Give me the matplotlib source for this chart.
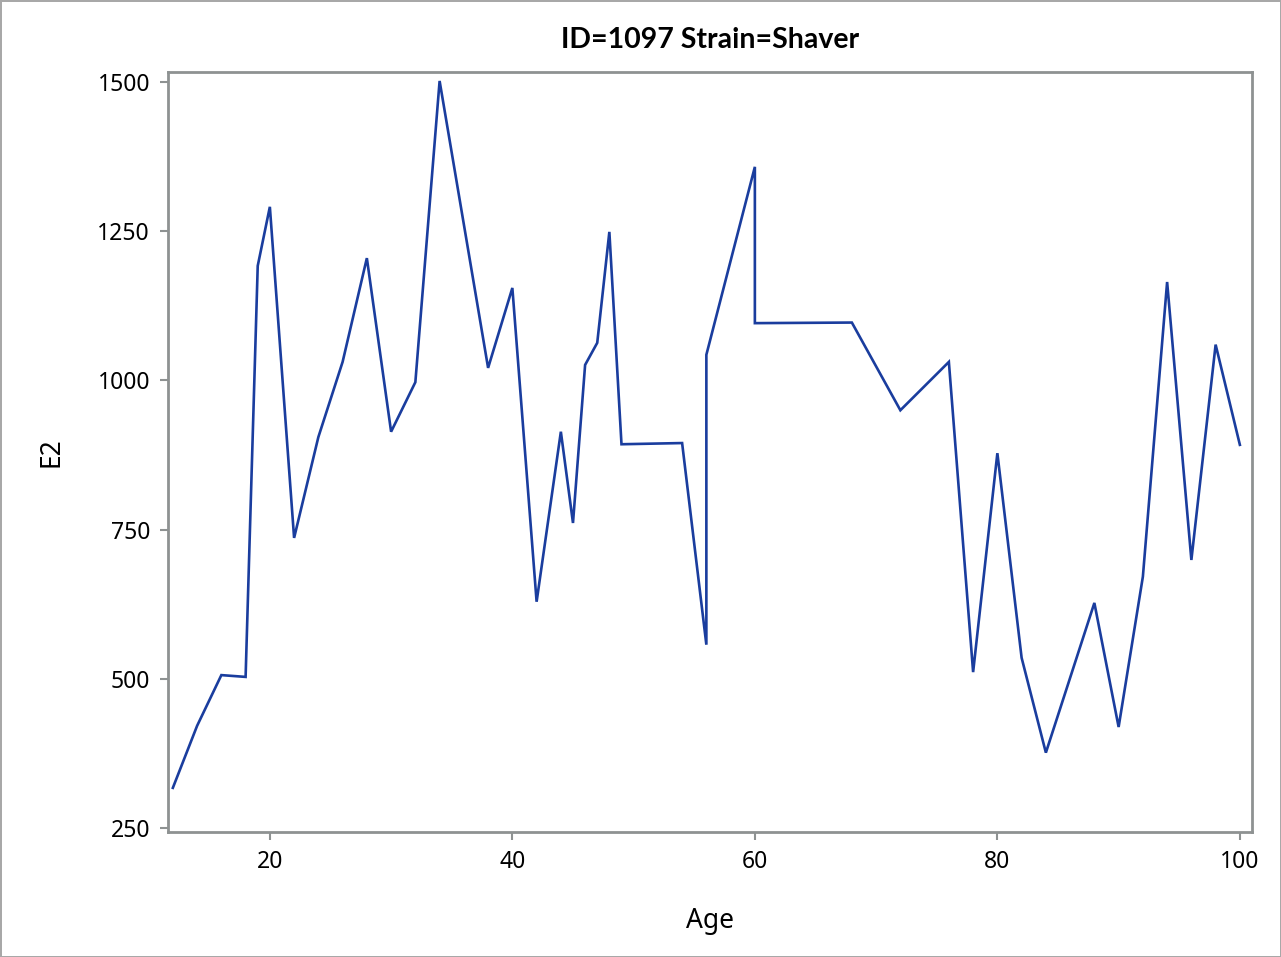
import numpy as np
import matplotlib
matplotlib.use("Agg")
import matplotlib.pyplot as plt

# values (age, E2), in plotting order
age = [12, 14, 16, 18, 19, 20, 22, 24, 26, 28, 30, 32, 34, 38, 40, 42, 44, 45,
       46, 47, 48, 49, 54, 56, 56, 60, 60, 68, 72, 76, 78, 80, 82, 84, 88, 90,
       92, 94, 96, 98, 100]
e2 = [317, 421, 506, 503, 1192, 1291, 736, 905, 1031, 1205, 914, 997, 1502,
      1021, 1155, 629, 914, 761, 1026, 1063, 1249, 893, 895, 557, 1043, 1358,
      1096, 1097, 950, 1031, 511, 878, 535, 376, 627, 419, 671, 1165, 699,
      1060, 892]

x_ticks = [20, 40, 60, 80, 100]
y_ticks = [250, 500, 750, 1000, 1250, 1500]

plt.rcParams['font.family'] = ['Noto Sans', 'DejaVu Sans']
frame = '#8e9292'

fig = plt.figure(figsize=(12.81, 9.57), dpi=100, edgecolor='#a8a8a8', linewidth=2)
ax = fig.add_axes([168/1281, 1 - 832/957, (1252-168)/1281, (832-72)/957])

ax.plot(age, e2, color='#1a3d9e', linewidth=1.9, solid_joinstyle='miter')

ax.set_xlim(11.6, 101)
ax.set_ylim(243, 1517)
ax.set_xticks(x_ticks)
ax.set_yticks(y_ticks)
ax.tick_params(direction='out', length=6, width=1.5, color=frame,
               labelsize=16.5, pad=7)
for s in ax.spines.values():
    s.set_color(frame)
    s.set_linewidth(2)

ax.set_xlabel('Age', fontsize=19, labelpad=24)
ax.set_ylabel('E2', fontsize=19, labelpad=23)
ax.set_title('ID=1097 Strain=Shaver', fontsize=20.5, fontweight='bold', pad=17,
             family=['Lato', 'DejaVu Sans'])

fig.savefig('out.png', dpi=100)
